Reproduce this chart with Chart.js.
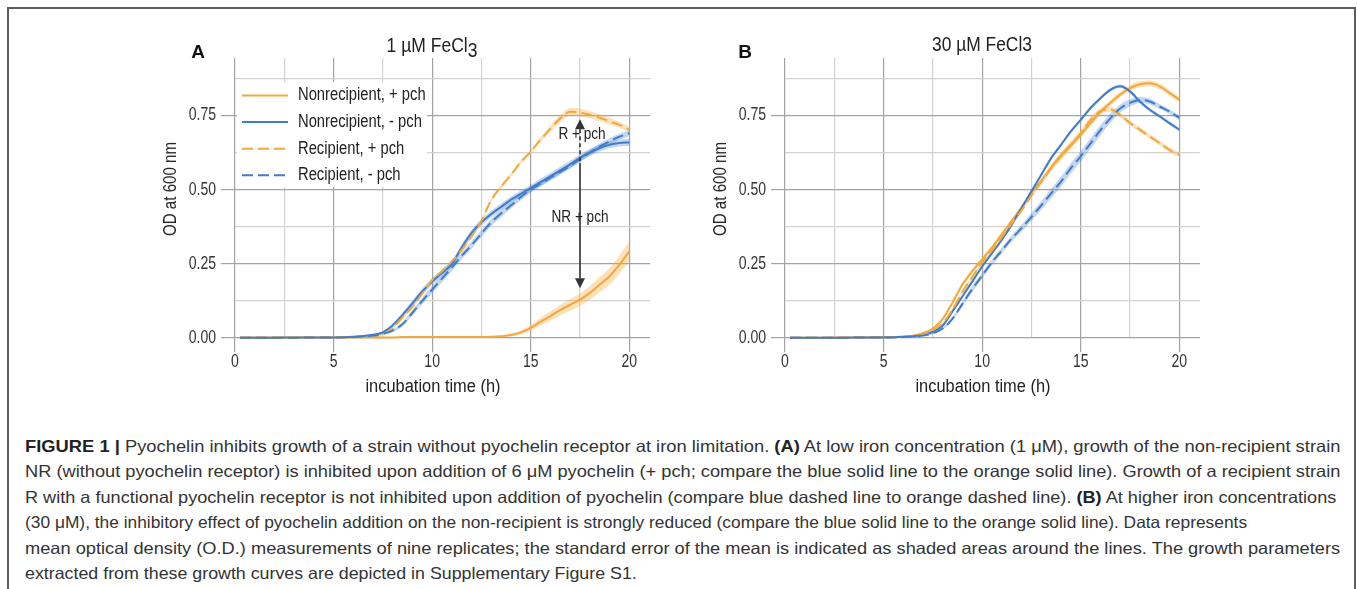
<!DOCTYPE html>
<html><head><meta charset="utf-8">
<script src="https://cdn.jsdelivr.net/npm/chart.js@4/dist/chart.umd.min.js"></script>
<style>
html,body{margin:0;padding:0;background:#fff;width:1357px;height:589px;overflow:hidden;position:relative;}
body{font-family:"Liberation Sans",Arial,sans-serif;}
.frame{position:absolute;left:7px;top:7px;width:1349px;height:640px;border:2px solid #5e5e5e;box-sizing:border-box;}
canvas{position:absolute;}
.t{position:absolute;white-space:nowrap;color:#222;line-height:1;}
.title{font-size:20px;}
.letter{font-weight:bold;font-size:19px;color:#111;}
.ax{font-size:18px;}
.cap{position:absolute;left:25px;font-size:16.5px;line-height:1;color:#333;white-space:nowrap;transform-origin:0 50%;}
.cap b{color:#222;}
</style>
</head><body>
<div class="frame"></div>
<canvas id="cA" width="520" height="338" style="left:150px;top:40px;width:520px;height:338px"></canvas>
<canvas id="cB" width="520" height="338" style="left:700px;top:40px;width:520px;height:338px"></canvas>

<div class="t letter" data-base="translate(-50%,-50%)" style="left:198px;top:51px">A</div>
<div class="t title" data-base="translate(-50%,-50%)" data-w="91" style="left:432px;top:45px">1 µM FeCl<span style="position:relative;top:5px">3</span></div>
<div class="t ax" data-base="translate(-50%,-50%) rotate(-90deg)" data-w="94" style="left:170px;top:189px">OD at 600 nm</div>
<div class="t ax" data-base="translate(-50%,-50%)" data-w="135" style="left:433px;top:386px">incubation time (h)</div>

<div class="t letter" data-base="translate(-50%,-50%)" style="left:745px;top:51px">B</div>
<div class="t title" data-base="translate(-50%,-50%)" data-w="100" style="left:982px;top:44px">30 µM FeCl3</div>
<div class="t ax" data-base="translate(-50%,-50%) rotate(-90deg)" data-w="94" style="left:720px;top:189px">OD at 600 nm</div>
<div class="t ax" data-base="translate(-50%,-50%)" data-w="135" style="left:983px;top:386px">incubation time (h)</div>

<div class="cap" data-base="translateY(-50%)" data-w="1315" style="top:446px"><b>FIGURE 1 |</b> Pyochelin inhibits growth of a strain without pyochelin receptor at iron limitation. <b>(A)</b> At low iron concentration (1 μM), growth of the non-recipient strain</div>
<div class="cap" data-base="translateY(-50%)" data-w="1315" style="top:471.4px">NR (without pyochelin receptor) is inhibited upon addition of 6 μM pyochelin (+ pch; compare the blue solid line to the orange solid line). Growth of a recipient strain</div>
<div class="cap" data-base="translateY(-50%)" data-w="1311" style="top:496.8px">R with a functional pyochelin receptor is not inhibited upon addition of pyochelin (compare blue dashed line to orange dashed line). <b>(B)</b> At higher iron concentrations</div>
<div class="cap" data-base="translateY(-50%)" data-w="1222" style="top:522.2px">(30 μM), the inhibitory effect of pyochelin addition on the non-recipient is strongly reduced (compare the blue solid line to the orange solid line). Data represents</div>
<div class="cap" data-base="translateY(-50%)" data-w="1315" style="top:547.6px">mean optical density (O.D.) measurements of nine replicates; the standard error of the mean is indicated as shaded areas around the lines. The growth parameters</div>
<div class="cap" data-base="translateY(-50%)" data-w="612" style="top:573px">extracted from these growth curves are depicted in Supplementary Figure S1.</div>

<script>
// ---------- data ----------
const timeH = [0.25,1,2,3,4,5,6,6.5,7,7.5,8,8.5,9,9.5,10,10.5,11,11.5,12,12.5,13,13.5,14,14.5,15,15.5,16,16.5,17,17.5,18,18.5,19,19.5,20];

const legendLabels = ['Nonrecipient, + pch','Nonrecipient, - pch','Recipient, + pch','Recipient, - pch'];
const xTickValues = [0,5,10,15,20];
const yTickValues = [0,0.25,0.5,0.75];

// Panel A: 1 uM FeCl3
const aNrPlus  = [0.002,0.002,0.002,0.002,0.002,0.002, 0.002,0.002,0.002,0.002,0.002,0.003,0.003,0.003,0.003, 0.003,0.003,0.003,0.003,0.003,0.004,0.006,0.01,0.019,0.034, 0.055,0.074,0.094,0.112,0.129,0.152,0.18,0.208,0.247,0.292];
const aNrPlusSem = [0.001,0.001,0.001,0.001,0.001,0.001, 0.001,0.001,0.001,0.001,0.001,0.001,0.001,0.001,0.001, 0.001,0.001,0.001,0.001,0.001,0.002,0.003,0.004,0.007,0.01, 0.013,0.016,0.018,0.02,0.021,0.023,0.026,0.028,0.031,0.034];
const aNrMinus = [0.001,0.001,0.001,0.002,0.002,0.002, 0.004,0.007,0.011,0.019,0.043,0.078,0.117,0.157,0.19, 0.219,0.25,0.305,0.354,0.39,0.418,0.442,0.466,0.486,0.505, 0.525,0.545,0.565,0.585,0.607,0.625,0.64,0.651,0.657,0.659];
const aNrMinusSem = [0.001,0.001,0.001,0.001,0.001,0.001, 0.001,0.002,0.003,0.004,0.006,0.008,0.01,0.011,0.011, 0.011,0.011,0.011,0.011,0.011,0.011,0.011,0.011,0.011,0.011, 0.012,0.012,0.012,0.012,0.012,0.012,0.012,0.012,0.012,0.012];
const aRPlus   = [0.001,0.001,0.002,0.002,0.002,0.002, 0.003,0.004,0.006,0.012,0.033,0.07,0.105,0.15,0.195, 0.225,0.258,0.297,0.342,0.395,0.465,0.51,0.55,0.593,0.628, 0.668,0.705,0.74,0.762,0.76,0.752,0.742,0.73,0.718,0.702];
const aRPlusSem = [0.001,0.001,0.001,0.001,0.001,0.001, 0.001,0.001,0.002,0.003,0.004,0.005,0.006,0.006,0.006, 0.006,0.006,0.006,0.006,0.006,0.006,0.006,0.006,0.006,0.006, 0.008,0.01,0.012,0.013,0.013,0.012,0.012,0.011,0.01,0.01];
const aRMinus  = [0.001,0.001,0.001,0.001,0.002,0.002, 0.003,0.005,0.008,0.014,0.025,0.047,0.085,0.125,0.163, 0.2,0.238,0.277,0.313,0.352,0.39,0.42,0.447,0.475,0.5, 0.52,0.54,0.56,0.58,0.603,0.625,0.645,0.663,0.678,0.69];
const aRMinusSem = [0.001,0.001,0.001,0.001,0.001,0.001, 0.001,0.001,0.002,0.003,0.005,0.007,0.009,0.011,0.012, 0.012,0.012,0.012,0.012,0.012,0.012,0.012,0.011,0.011,0.011, 0.01,0.01,0.01,0.01,0.01,0.01,0.01,0.01,0.01,0.01];

// Panel B: 30 uM FeCl3
const bNrPlus  = [0.001,0.001,0.001,0.002,0.002,0.003, 0.004,0.008,0.016,0.032,0.064,0.12,0.18,0.225,0.265, 0.305,0.35,0.395,0.44,0.49,0.53,0.575,0.615,0.65,0.685, 0.724,0.762,0.792,0.82,0.842,0.855,0.858,0.848,0.826,0.803];
const bNrPlusSem = [0.001,0.001,0.001,0.001,0.001,0.001, 0.001,0.002,0.003,0.004,0.005,0.006,0.007,0.007,0.007, 0.007,0.007,0.007,0.007,0.007,0.008,0.009,0.01,0.01,0.01, 0.01,0.01,0.01,0.01,0.01,0.01,0.01,0.01,0.01,0.01];
const bNrMinus = [0.001,0.001,0.001,0.001,0.002,0.002, 0.004,0.006,0.011,0.021,0.042,0.09,0.14,0.19,0.241, 0.286,0.331,0.382,0.438,0.494,0.55,0.606,0.651,0.696,0.735, 0.775,0.808,0.836,0.848,0.831,0.797,0.769,0.747,0.724,0.702];
const bNrMinusSem = [0.001,0.001,0.001,0.001,0.001,0.001, 0.001,0.001,0.002,0.003,0.004,0.005,0.005,0.005,0.006, 0.006,0.006,0.006,0.006,0.006,0.006,0.006,0.006,0.006,0.006, 0.006,0.006,0.006,0.006,0.006,0.006,0.006,0.006,0.006,0.006];
const bRPlus   = [0.001,0.001,0.001,0.002,0.002,0.002, 0.003,0.006,0.011,0.026,0.05,0.096,0.155,0.205,0.255, 0.295,0.34,0.386,0.43,0.48,0.526,0.572,0.612,0.65,0.69, 0.735,0.764,0.77,0.752,0.724,0.702,0.679,0.657,0.634,0.618];
const bRPlusSem = [0.001,0.001,0.001,0.001,0.001,0.001, 0.001,0.002,0.003,0.003,0.004,0.005,0.006,0.006,0.006, 0.006,0.006,0.006,0.006,0.006,0.008,0.01,0.012,0.012,0.012, 0.01,0.008,0.008,0.008,0.008,0.008,0.008,0.008,0.008,0.008];
const bRMinus  = [0.001,0.001,0.001,0.001,0.002,0.002, 0.003,0.005,0.008,0.016,0.032,0.065,0.115,0.165,0.21, 0.255,0.295,0.335,0.37,0.408,0.447,0.487,0.527,0.572,0.612, 0.656,0.7,0.74,0.773,0.792,0.802,0.797,0.78,0.763,0.742];
const bRMinusSem = [0.001,0.001,0.001,0.001,0.001,0.001, 0.001,0.001,0.002,0.003,0.004,0.006,0.008,0.01,0.01, 0.01,0.01,0.01,0.012,0.014,0.015,0.016,0.017,0.018,0.018, 0.018,0.018,0.016,0.014,0.012,0.01,0.01,0.008,0.008,0.008];

// annotation in panel A (data units)
const arrowTime = 17.5;
const arrowY = [0.737, 0.59, 0.168];           // top tip, end of dashed part, bottom tip
const arrowLabels = ['R + pch','NR + pch'];
const arrowLabelY = [0.685, 0.408];

// ---------- styling ----------
const ORANGE = '#f5a83a', BLUE = '#3f7ccb';
const ORANGE_BAND = 'rgba(245,168,58,0.35)', BLUE_BAND = 'rgba(63,124,203,0.30)';
const MAJOR = '#a3a3a3', MINOR = '#d2d2d2';
const FONT = '"Liberation Sans", Arial, sans-serif';
const SQUEEZE = 0.78;   // the reference uses a condensed face
const DASH = [11,5];

Chart.defaults.font.family = FONT;

function pts(vals){ return timeH.map((t,i)=>({x:t,y:vals[i]})); }

function seriesSets(vals, sem, color, band, dashed, order){
  return [
    {data: pts(vals.map((v,i)=>v-sem[i])), borderWidth:0, pointRadius:0, fill:false, backgroundColor:'transparent', borderColor:'transparent', order:20, clip:false, cubicInterpolationMode:'monotone'},
    {data: pts(vals.map((v,i)=>v+sem[i])), borderWidth:0, pointRadius:0, fill:'-1', backgroundColor:band, borderColor:'transparent', order:20, clip:false, cubicInterpolationMode:'monotone'},
    {data: pts(vals), borderColor:color, borderWidth:2, borderDash: dashed?DASH:[], pointRadius:0, fill:false, order:order, clip:false, cubicInterpolationMode:'monotone'}
  ];
}

const isMajor = (v, step) => Math.abs(v/step - Math.round(v/step)) < 1e-6;

function squeezedText(ctx, txt, x, y, size, align, sq, color){
  ctx.save();
  ctx.font = size + 'px ' + FONT;
  ctx.fillStyle = color || '#333';
  ctx.textAlign = align; ctx.textBaseline = 'middle';
  ctx.translate(x, y); ctx.scale(sq, 1);
  ctx.fillText(txt, 0, 0);
  ctx.restore();
}

// tick labels drawn from the chart's own scales with a condensed look
const tickLabelPlugin = {
  id:'condTicks',
  afterDraw(chart){
    const {ctx, scales:{x,y}, chartArea:a} = chart;
    xTickValues.forEach(v=>squeezedText(ctx, String(v), x.getPixelForValue(v), a.bottom + 24, 18, 'center', SQUEEZE, '#333'));
    yTickValues.forEach(v=>squeezedText(ctx, v.toFixed(2), a.left - 19, y.getPixelForValue(v), 18, 'right', SQUEEZE, '#333'));
  }
};

const legendPlugin = {
  id:'insideLegend',
  afterDatasetsDraw(chart, args, o){
    if(!o || !o.show) return;
    const {ctx, chartArea:a} = chart;
    ctx.save();
    ctx.fillStyle = '#fff';
    ctx.fillRect(a.left+2, a.top+24, 190, 105);
    const styles = [[ORANGE,[]],[BLUE,[]],[ORANGE,DASH],[BLUE,DASH]];
    legendLabels.forEach((lab,i)=>{
      const y = a.top + 37.5 + i*26.6;
      ctx.strokeStyle = styles[i][0]; ctx.lineWidth = 2; ctx.setLineDash(styles[i][1]);
      ctx.beginPath(); ctx.moveTo(a.left+7,y); ctx.lineTo(a.left+53,y); ctx.stroke();
      ctx.setLineDash([]);
      squeezedText(ctx, lab, a.left+63, y, 18, 'left', 0.82, '#222');
    });
    ctx.restore();
  }
};

const arrowPlugin = {
  id:'pchArrow',
  afterDatasetsDraw(chart, args, o){
    if(!o || !o.show) return;
    const {ctx, scales:{x,y}} = chart;
    const px = x.getPixelForValue(arrowTime);
    const yTop = y.getPixelForValue(arrowY[0]);
    const yMid = y.getPixelForValue(arrowY[1]);
    const yBot = y.getPixelForValue(arrowY[2]);
    ctx.save();
    ctx.strokeStyle = '#333'; ctx.fillStyle = '#333'; ctx.lineWidth = 1.6;
    ctx.beginPath(); ctx.moveTo(px,yTop); ctx.lineTo(px-5,yTop+10); ctx.lineTo(px+5,yTop+10); ctx.closePath(); ctx.fill();
    ctx.setLineDash([4,3]);
    ctx.beginPath(); ctx.moveTo(px,yTop+10); ctx.lineTo(px,yMid); ctx.stroke();
    ctx.setLineDash([]);
    ctx.beginPath(); ctx.moveTo(px,yMid); ctx.lineTo(px,yBot-10); ctx.stroke();
    ctx.beginPath(); ctx.moveTo(px,yBot); ctx.lineTo(px-5,yBot-10); ctx.lineTo(px+5,yBot-10); ctx.closePath(); ctx.fill();
    ctx.restore();
    squeezedText(ctx, arrowLabels[0], px+2, y.getPixelForValue(arrowLabelY[0]), 17, 'center', 0.8, '#222');
    squeezedText(ctx, arrowLabels[1], px, y.getPixelForValue(arrowLabelY[1]), 17, 'center', 0.8, '#222');
  }
};

function makeChart(id, s, withExtras){
  const datasets = [
    ...seriesSets(s.nrPlus, s.nrPlusSem, ORANGE, ORANGE_BAND, false, 4),
    ...seriesSets(s.nrMinus, s.nrMinusSem, BLUE, BLUE_BAND, false, 3),
    ...seriesSets(s.rPlus, s.rPlusSem, ORANGE, ORANGE_BAND, true, 2),
    ...seriesSets(s.rMinus, s.rMinusSem, BLUE, BLUE_BAND, true, 1)
  ];
  return new Chart(document.getElementById(id), {
    type:'line',
    data:{datasets},
    plugins:[legendPlugin, arrowPlugin, tickLabelPlugin],
    options:{
      responsive:false, animation:false, devicePixelRatio:1,
      layout:{padding:{left:0,right:20,top:18,bottom:0}},
      plugins:{legend:{display:false}, tooltip:{enabled:false},
        insideLegend:{show:withExtras}, pchArrow:{show:withExtras}},
      scales:{
        x:{type:'linear', min:0, max:21.05,
          afterFit:(sc)=>{sc.height=40;},
          border:{display:false},
          grid:{lineWidth:1.2, tickLength:14,
            color:c=>isMajor(c.tick.value,5)?MAJOR:MINOR,
            tickColor:c=>isMajor(c.tick.value,5)?MAJOR:'rgba(0,0,0,0)'},
          ticks:{display:false, stepSize:2.5, includeBounds:false, autoSkip:false, maxRotation:0}
        },
        y:{type:'linear', min:0, max:0.9434,
          afterFit:(sc)=>{sc.width=85;},
          border:{display:false},
          grid:{lineWidth:1.2, tickLength:14,
            color:c=>isMajor(c.tick.value,0.25)?MAJOR:MINOR,
            tickColor:c=>isMajor(c.tick.value,0.25)?MAJOR:'rgba(0,0,0,0)'},
          ticks:{display:false, stepSize:0.125, includeBounds:false, autoSkip:false}
        }
      }
    }
  });
}

makeChart('cA', {nrPlus:aNrPlus, nrPlusSem:aNrPlusSem, nrMinus:aNrMinus, nrMinusSem:aNrMinusSem,
  rPlus:aRPlus, rPlusSem:aRPlusSem, rMinus:aRMinus, rMinusSem:aRMinusSem}, true);
makeChart('cB', {nrPlus:bNrPlus, nrPlusSem:bNrPlusSem, nrMinus:bNrMinus, nrMinusSem:bNrMinusSem,
  rPlus:bRPlus, rPlusSem:bRPlusSem, rMinus:bRMinus, rMinusSem:bRMinusSem}, false);

// fit HTML text widths to the reference (condensed face in the original)
document.querySelectorAll('[data-base]').forEach(el=>{
  let tr = el.dataset.base;
  if (el.dataset.w){ tr += ' scaleX(' + (parseFloat(el.dataset.w)/el.offsetWidth).toFixed(4) + ')'; }
  el.style.transform = tr;
});
</script>
</body></html>
